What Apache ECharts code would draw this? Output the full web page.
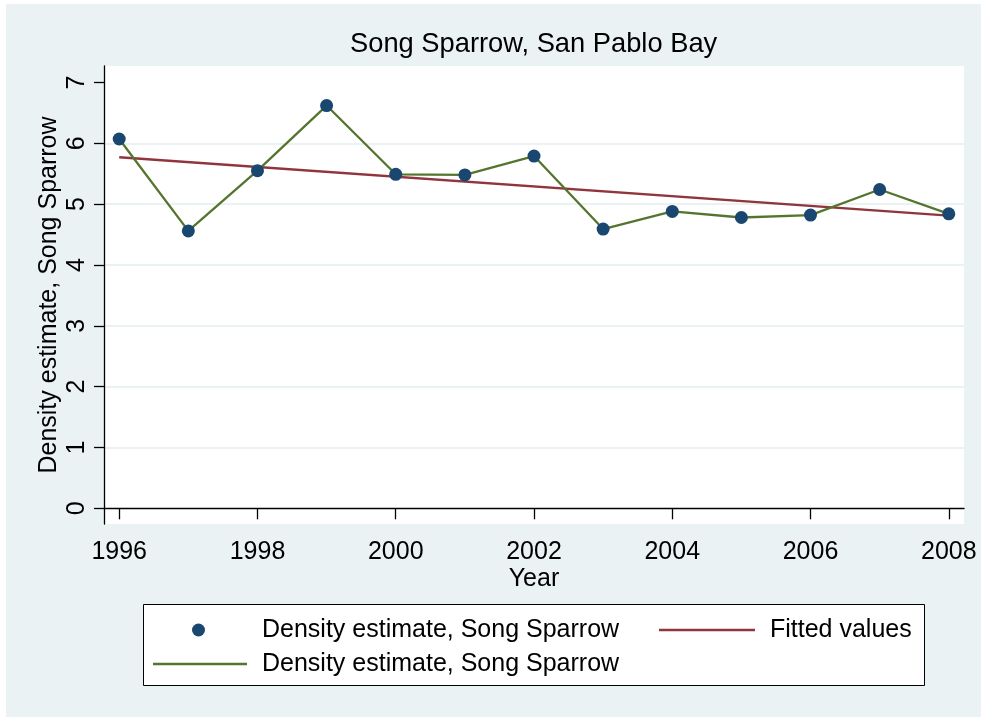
<!DOCTYPE html>
<html>
<head>
<meta charset="utf-8">
<script src="https://cdn.jsdelivr.net/npm/echarts@6/dist/echarts.min.js"></script>
<style>
  html, body { margin: 0; padding: 0; background: #fff; }
  #main { width: 981px; height: 717px; }
</style>
</head>
<body>
<div id="main"></div>
<script>
// data
var years = [1996, 1997, 1998, 1999, 2000, 2001, 2002, 2003, 2004, 2005, 2006, 2007, 2008];
var density = [6.07, 4.56, 5.55, 6.62, 5.49, 5.48, 5.79, 4.59, 4.88, 4.78, 4.82, 5.24, 4.84];
// fitted line end points
var fitYears = [1996, 2008];
var fitValues = [5.77, 4.81];
var xTicks = [1996, 1998, 2000, 2002, 2004, 2006, 2008];
var yTicks = [0, 1, 2, 3, 4, 5, 6, 7];
var yGrid = [1, 2, 3, 4, 5, 6];

var seriesName = 'Density estimate, Song Sparrow';
var lineName = 'Density estimate, Song Sparrow\u200b';

var font = 'Liberation Sans, Arial, sans-serif';

var chart = echarts.init(document.getElementById('main'));

var option = {
  backgroundColor: '#fff',
  animation: false,
  graphic: [
    { type: 'rect', z: -10, shape: { x: 6, y: 4, width: 975, height: 713 }, style: { fill: '#EAF2F3' } },
    { type: 'rect', z: 10, shape: { x: 143.5, y: 604.5, width: 781, height: 81 },
      style: { fill: '#fff', stroke: '#000', lineWidth: 1 } }
  ],
  title: {
    text: 'Song Sparrow, San Pablo Bay',
    left: 350, top: 31, padding: 0,
    textStyle: { fontFamily: font, fontSize: 27.3, fontWeight: 'normal', color: '#000' }
  },
  legend: [
    {
      data: [{ name: seriesName, icon: 'circle' }], left: 192, top: 615, padding: 0, z: 20,
      itemWidth: 13, itemHeight: 13,
      textStyle: { fontFamily: font, fontSize: 25, color: '#000', padding: [0, 0, 0, 52], lineHeight: 30 }
    },
    {
      data: [{ name: 'Fitted values', icon: 'rect' }], left: 659, top: 615, padding: 0, z: 20,
      itemWidth: 96, itemHeight: 2.5,
      textStyle: { fontFamily: font, fontSize: 25, color: '#000', padding: [0, 0, 0, 10], lineHeight: 30 }
    },
    {
      data: [{ name: lineName, icon: 'rect' }], left: 153, top: 649, padding: 0, z: 20,
      itemWidth: 94, itemHeight: 2.5,
      formatter: function () { return seriesName; },
      textStyle: { fontFamily: font, fontSize: 25, color: '#000', padding: [0, 0, 0, 10], lineHeight: 30 }
    }
  ],
  grid: {
    left: 104, right: 17, top: 66, bottom: 193,
    show: true, backgroundColor: '#fff', borderWidth: 0
  },
  xAxis: {
    type: 'value', min: 1995.78, max: 2008.22,
    name: 'Year', nameLocation: 'middle', nameGap: 43, nameMoveOverlap: false,
    nameTextStyle: { fontFamily: font, fontSize: 25, color: '#000' },
    axisLine: { lineStyle: { color: '#000', width: 1.3 } },
    axisTick: { customValues: xTicks, length: 11, lineStyle: { color: '#000', width: 1.3 } },
    axisLabel: {
      customValues: xTicks, margin: 16, fontFamily: font, fontSize: 25, color: '#000',
      formatter: function (v) { return String(v); }
    },
    splitLine: { show: false }
  },
  yAxis: [
    {
      type: 'value', min: -0.258, max: 7.27,
      name: 'Density estimate, Song Sparrow', nameLocation: 'middle', nameGap: 42, nameRotate: 90,
      nameMoveOverlap: false,
      nameTextStyle: { fontFamily: font, fontSize: 25, color: '#000' },
      axisLine: { show: true, lineStyle: { color: '#000', width: 1.3 } },
      axisTick: { show: true, customValues: yTicks, length: 10, lineStyle: { color: '#000', width: 1.3 } },
      axisLabel: { customValues: yTicks, rotate: 90, margin: 14, fontFamily: font, fontSize: 25, color: '#000' },
      splitLine: { show: false }
    },
    {
      type: 'value', min: -0.258, max: 7.27, position: 'left',
      axisLine: { show: false },
      axisTick: { show: false, customValues: yGrid },
      axisLabel: { show: false, customValues: yGrid },
      splitLine: { show: true, lineStyle: { color: '#EAF2F3', width: 2 } }
    }
  ],
  series: [
    {
      name: lineName, type: 'line', symbol: 'none', z: 3,
      data: years.map(function (y, i) { return [y, density[i]]; }),
      lineStyle: { color: '#55752F', width: 2.3 },
      itemStyle: { color: '#55752F' }
    },
    {
      name: 'Fitted values', type: 'line', symbol: 'none', z: 2,
      data: fitYears.map(function (y, i) { return [y, fitValues[i]]; }),
      lineStyle: { color: '#90353B', width: 2.3 },
      itemStyle: { color: '#90353B' }
    },
    {
      name: seriesName, type: 'scatter', symbol: 'circle', symbolSize: 13, z: 4,
      data: years.map(function (y, i) { return [y, density[i]]; }),
      itemStyle: { color: '#1A476F', opacity: 1 }
    }
  ]
};

chart.setOption(option);
</script>
</body>
</html>
